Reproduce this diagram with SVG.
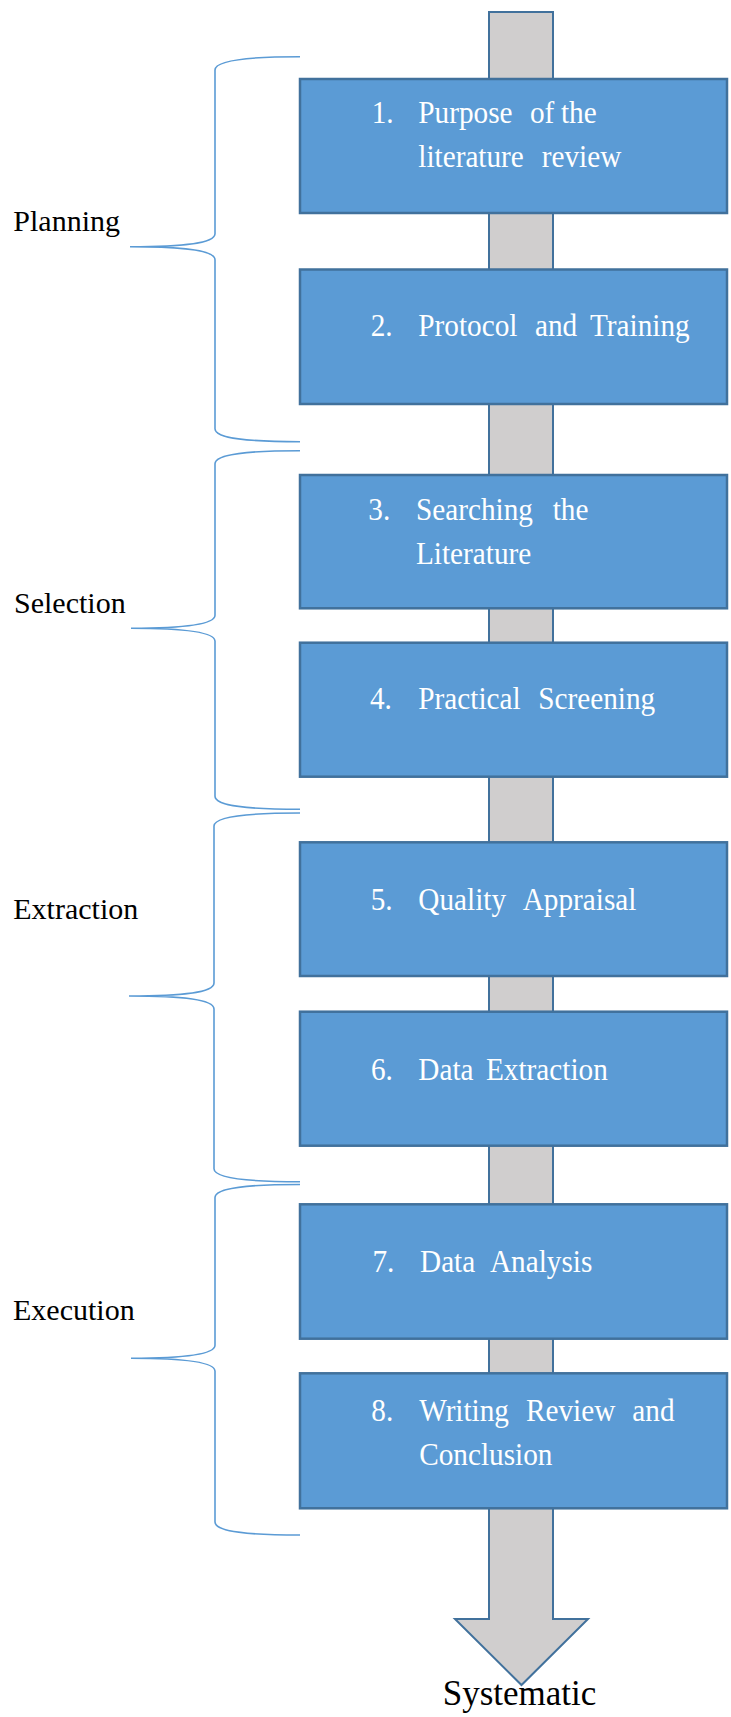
<svg xmlns="http://www.w3.org/2000/svg" width="731" height="1717" viewBox="0 0 731 1717">
  <style>
    .step { fill: #5B9BD5; stroke: #41719C; stroke-width: 2.5; }
    .flow { fill: #D0CECE; stroke: #41719C; stroke-width: 2; }
    .brace { fill: none; stroke: #5B9BD5; stroke-width: 1.6; }
    text { font-family: "Liberation Serif", "Times New Roman", Times, Tinos, "Noto Serif", "DejaVu Serif", "Nimbus Roman", "Nimbus Roman No9 L", FreeSerif, Georgia, serif; }
    .bt { font-size: 32.5px; fill: #FFFFFF; }
    .phase { font-size: 30px; fill: #000000; }
    .result { font-size: 35px; fill: #000000; }
  </style>

  <rect width="731" height="1717" fill="#FFFFFF"/>

  <!-- connectors: the main flow arrow and the phase braces -->
  <g id="connectors">
    <path class="flow" d="M489,12 H553 V1619 H588 L521.5,1685 L455,1619 H489 Z"/>
    <path class="brace" d="M300,56.7 C250,56.7 215,60 215,70 V233.7 C215,243.7 180,246.7 130,246.7 C180,246.7 215,249.7 215,259.7 V428.7 C215,438.7 250,441.7 300,441.7"/>
    <path class="brace" d="M300,450.7 C250,450.7 215,453.7 215,463.7 V615.3 C215,625.3 180,628.3 131,628.3 C180,628.3 215,631.3 215,641.3 V796.3 C215,806.3 250,809.3 300,809.3"/>
    <path class="brace" d="M300,813 C250,813 214,816 214,826 V983 C214,993 180,996 129,996 C180,996 214,999 214,1009 V1168.7 C214,1178.7 250,1181.7 300,1181.7"/>
    <path class="brace" d="M300,1184.5 C250,1184.5 215,1187.5 215,1197.5 V1345.3 C215,1355.3 180,1358.3 131,1358.3 C180,1358.3 215,1361.3 215,1371.3 V1522 C215,1532 250,1535 300,1535"/>
  </g>

  <!-- steps -->
  <g id="step1">
    <rect class="step" x="300" y="79" width="427" height="134"/>
    <text class="bt" transform="scale(0.9,1)" y="122.7"><tspan x="413">1.</tspan><tspan x="464.8">Purpose</tspan><tspan x="588.9">of</tspan><tspan x="623.3">the</tspan></text>
    <text class="bt" transform="scale(0.9,1)" y="166.7"><tspan x="464.8">literature</tspan><tspan x="601.9">review</tspan></text>
  </g>
  <g id="step2">
    <rect class="step" x="300" y="269.5" width="427" height="134.5"/>
    <text class="bt" transform="scale(0.9,1)" y="336"><tspan x="411.9">2.</tspan><tspan x="464.8">Protocol</tspan><tspan x="594.4">and</tspan><tspan x="655.6">Training</tspan></text>
  </g>
  <g id="step3">
    <rect class="step" x="300" y="475" width="427" height="133.3"/>
    <text class="bt" transform="scale(0.9,1)" y="520"><tspan x="409.2">3.</tspan><tspan x="462.2">Searching</tspan><tspan x="614.1">the</tspan></text>
    <text class="bt" transform="scale(0.9,1)" y="564"><tspan x="462.2">Literature</tspan></text>
  </g>
  <g id="step4">
    <rect class="step" x="300" y="642.7" width="427" height="134"/>
    <text class="bt" transform="scale(0.9,1)" y="709.3"><tspan x="411.1">4.</tspan><tspan x="464.8">Practical</tspan><tspan x="598.1">Screening</tspan></text>
  </g>
  <g id="step5">
    <rect class="step" x="300" y="842.3" width="427" height="133.7"/>
    <text class="bt" transform="scale(0.9,1)" y="910"><tspan x="411.9">5.</tspan><tspan x="464.8">Quality</tspan><tspan x="580.8">Appraisal</tspan></text>
  </g>
  <g id="step6">
    <rect class="step" x="300" y="1011.7" width="427" height="134"/>
    <text class="bt" transform="scale(0.9,1)" y="1080"><tspan x="412.2">6.</tspan><tspan x="464.8">Data</tspan><tspan x="540">Extraction</tspan></text>
  </g>
  <g id="step7">
    <rect class="step" x="300" y="1204.3" width="427" height="134.4"/>
    <text class="bt" transform="scale(0.9,1)" y="1271.7"><tspan x="413.8">7.</tspan><tspan x="466.7">Data</tspan><tspan x="544.4">Analysis</tspan></text>
  </g>
  <g id="step8">
    <rect class="step" x="300" y="1373.3" width="427" height="135"/>
    <text class="bt" transform="scale(0.9,1)" y="1420.7"><tspan x="412.6">8.</tspan><tspan x="465.8">Writing</tspan><tspan x="584.4">Review</tspan><tspan x="702.6">and</tspan></text>
    <text class="bt" transform="scale(0.9,1)" y="1465"><tspan x="465.8">Conclusion</tspan></text>
  </g>

  <!-- phase labels -->
  <g id="phase-planning"><text class="phase" x="13.3" y="230.7">Planning</text></g>
  <g id="phase-selection"><text class="phase" x="14" y="613.3">Selection</text></g>
  <g id="phase-extraction"><text class="phase" x="13.3" y="919.3">Extraction</text></g>
  <g id="phase-execution"><text class="phase" x="13" y="1320">Execution</text></g>

  <!-- outcome -->
  <g id="outcome"><text class="result" x="519.5" y="1705" text-anchor="middle">Systematic</text></g>
</svg>
